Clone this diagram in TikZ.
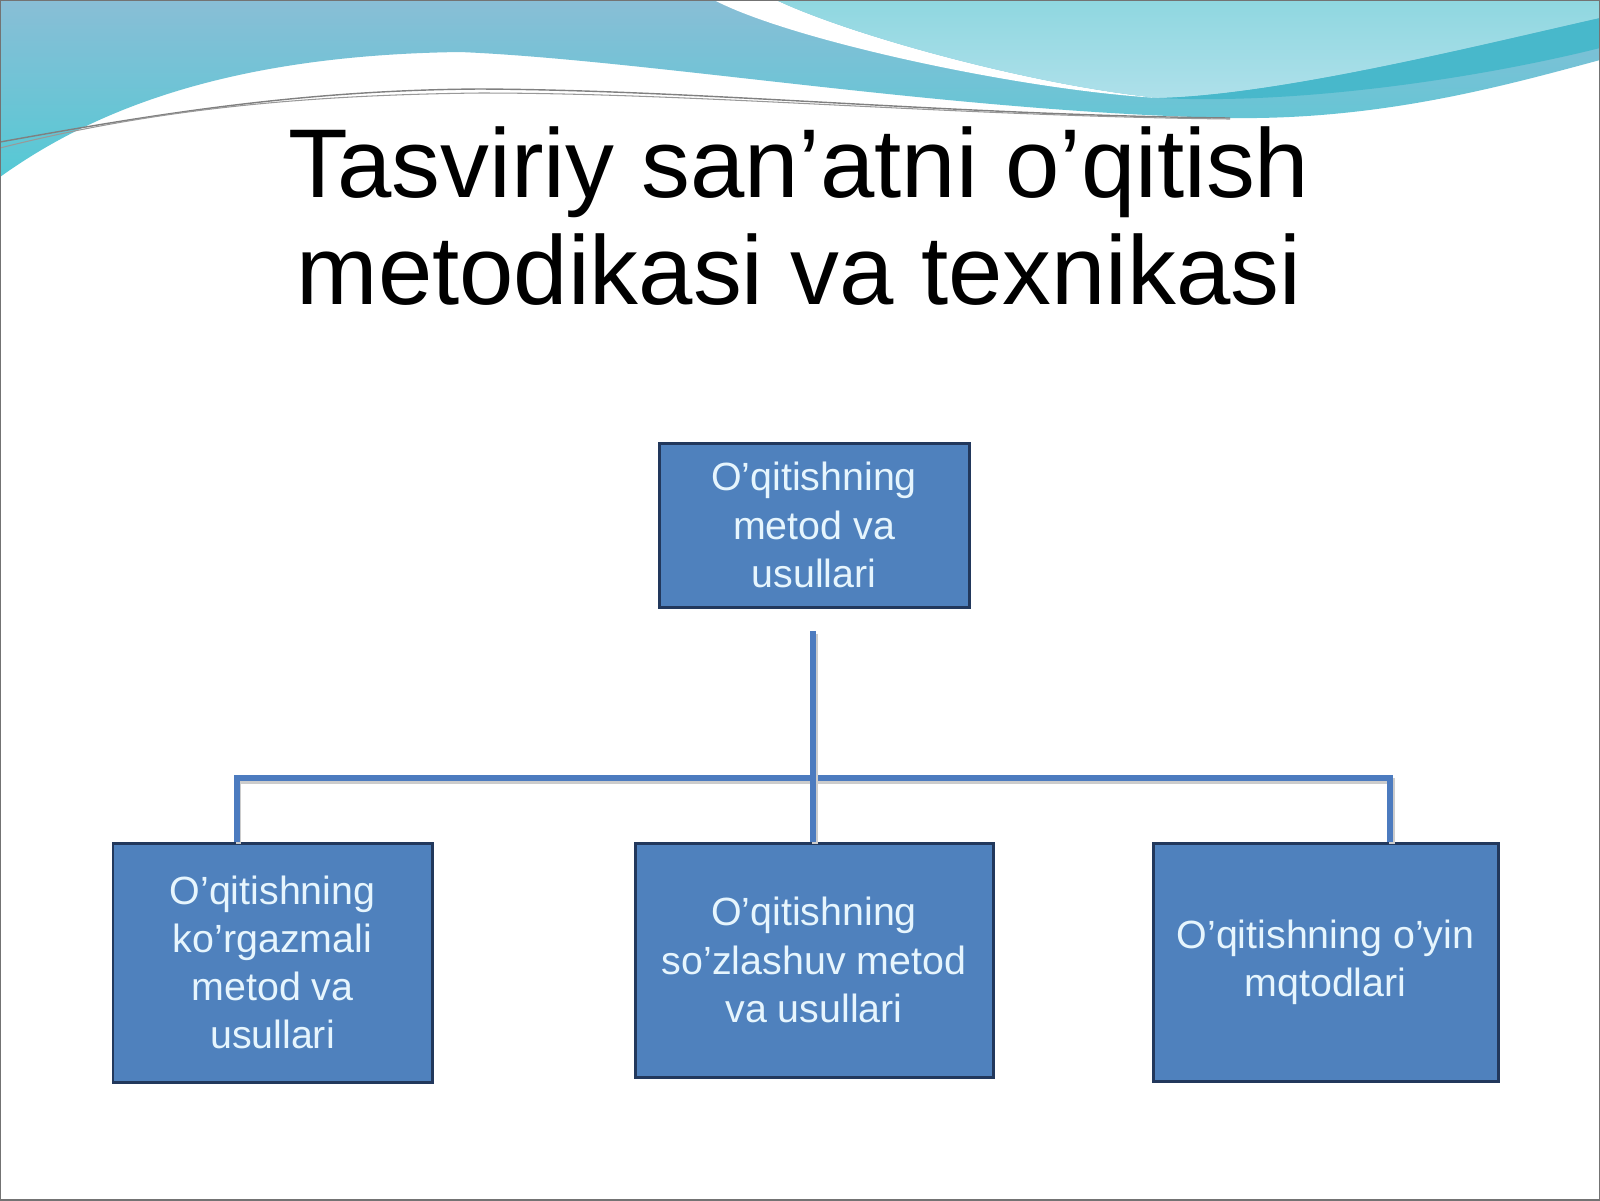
\documentclass[tikz,border=0pt]{standalone}
\usepackage{fontspec}
\setmainfont{Liberation Sans}
\usepackage{tikz}
\definecolor{boxfill}{HTML}{4F81BD}
\definecolor{boxline}{HTML}{22385C}
\definecolor{boxtext}{HTML}{E6F5FD}
\definecolor{linkblue}{HTML}{4C7BBF}
\definecolor{waveA}{HTML}{89BED6}
\definecolor{waveB}{HTML}{55C9D5}
\definecolor{waveC}{HTML}{8FD7E0}
\definecolor{waveD}{HTML}{AEE0EA}
\definecolor{waveband}{HTML}{48B8CB}
\begin{document}
\begin{tikzpicture}
  \tikzset{box style/.style = {draw=boxline, line width=0.85pt, fill=boxfill, text=boxtext,
      align=center, inner sep=0pt, font=\fontsize{11.2}{13.7}\selectfont},
    link style/.style = {draw=linkblue, line width=1.7pt,
      preaction={draw=black!20, line width=1.7pt, transform canvas={shift={(0.015,-0.025)}}}}}
  \useasboundingbox (0,0) rectangle (16,-12);
  \fill[white] (0,0) rectangle (16,-12);
  % top wave
  \shade[top color=waveA, bottom color=waveB] (0,0) -- (16,0) -- (16,-0.6)
    .. controls (15.0,-0.87) and (13.8,-1.2) .. (12.3,-1.18)
    .. controls (9.5,-1.12) and (6.5,-0.6) .. (4.6,-0.52)
    .. controls (2.4,-0.55) and (1.0,-1.05) .. (0,-1.77) -- cycle;
  \fill[white] (7.14,0) .. controls (7.9,-0.4) and (10.2,-0.9) .. (11.59,-0.98)
    .. controls (10.3,-0.85) and (8.5,-0.35) .. (7.76,0) -- cycle;
  \shade[top color=waveC, bottom color=waveD] (7.76,0) -- (16,0) -- (16,-0.18)
    .. controls (14.8,-0.45) and (12.8,-0.95) .. (11.59,-0.98)
    .. controls (10.3,-0.85) and (8.5,-0.35) .. (7.76,0) -- cycle;
  \fill[waveband] (11.59,-0.98) .. controls (12.8,-0.95) and (14.8,-0.45) .. (16,-0.18)
    -- (16,-0.48) .. controls (14.8,-0.78) and (13.0,-1.05) .. (11.59,-0.98) -- cycle;
  \draw[black!50, line width=0.4pt] (0,-1.42) .. controls (1.5,-1.15) and (3.0,-0.9) .. (4.8,-0.89)
    .. controls (7.0,-0.9) and (9.5,-1.15) .. (12.3,-1.18);
  \draw[black!40, line width=0.3pt] (0,-1.48) .. controls (1.5,-1.1) and (3.0,-0.95) .. (4.8,-0.93)
    .. controls (7.0,-0.93) and (9.5,-1.16) .. (12.3,-1.19);

  \node[font=\fontsize{27.8}{30.6}\selectfont, align=center, inner sep=0pt] (title) at (7.99,-2.16)
    {Tasviriy san’atni o’qitish\\metodikasi va texnikasi};

  \node[box style, minimum width=3.10cm, minimum height=1.64cm] (top) at (8.14,-5.25)
    {O’qitishning\\metod va\\usullari};
  \node[box style, minimum width=3.19cm, minimum height=2.39cm] (left) at (2.725,-9.625)
    {O’qitishning\\ko’rgazmali\\metod va\\usullari};
  \node[box style, minimum width=3.58cm, minimum height=2.34cm] (mid) at (8.14,-9.60)
    {O’qitishning\\so’zlashuv metod\\va usullari};
  \node[box style, minimum width=3.45cm, minimum height=2.38cm] (right) at (13.255,-9.62)
    {O’qitishning o’yin\\mqtodlari};

  \coordinate (trunk) at (8.13,-6.31);
  \coordinate (lefttop) at (2.37,-7.78);
  \coordinate (righttop) at (13.90,-7.78);
  \draw[link style] (lefttop |- left.north) -- (lefttop) -- (righttop) -- (righttop |- right.north);
  \draw[link style] (trunk) -- (trunk |- mid.north);

  \draw[black!55, line width=0.5pt] (0,0) rectangle (16,-12);
\end{tikzpicture}
\end{document}
